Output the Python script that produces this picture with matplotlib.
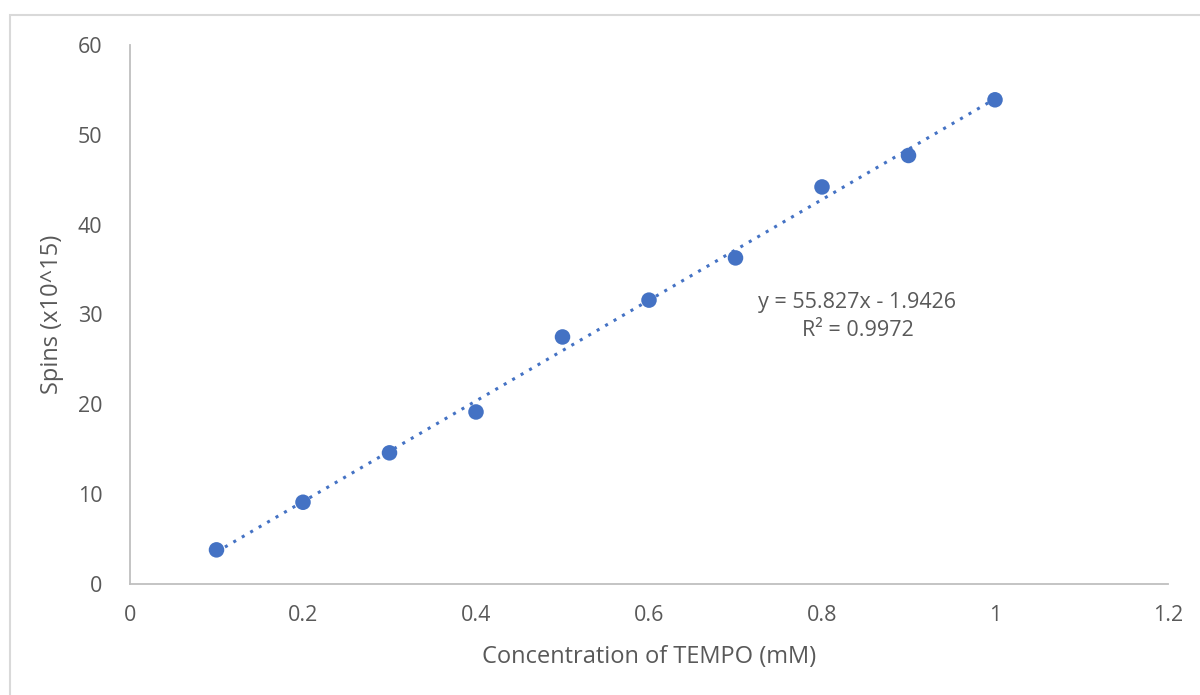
import matplotlib
matplotlib.use("Agg")
import matplotlib.pyplot as plt
import numpy as np
from matplotlib.patches import Rectangle

conc = [0.1, 0.2, 0.3, 0.4, 0.5, 0.6, 0.7, 0.8, 0.9, 1.0]
spins = [3.8, 9.1, 14.6, 19.15, 27.5, 31.6, 36.3, 44.2, 47.7, 53.9]
xticks = [0, 0.2, 0.4, 0.6, 0.8, 1, 1.2]
xtick_labels = ["0", "0.2", "0.4", "0.6", "0.8", "1", "1.2"]
yticks = [0, 10, 20, 30, 40, 50, 60]
eq_text = "y = 55.827x - 1.9426\nR² = 0.9972"

plt.rcParams['font.family'] = ['Open Sans', 'DejaVu Sans']
W, H = 1200, 695
fig = plt.figure(figsize=(W/100, H/100), dpi=100)
fig.patches.append(Rectangle((10/W, -0.1), 1.2, 1.1 - 15/H, transform=fig.transFigure,
                             fill=False, edgecolor='#d9d9d9', linewidth=1.5))
ax = fig.add_axes([130/W, 1-584/H, (1168-130)/W, (584-45)/H])
color = '#4472C4'
coef = np.polyfit(conc, spins, 1)
xl = np.array([conc[0], conc[-1]])
ax.plot(xl, np.polyval(coef, xl), linestyle=(0, (1, 2.2)), color=color, linewidth=2.2, zorder=2)
ax.scatter(conc, spins, s=125, color=color, zorder=3, edgecolors='none')

ax.set_xlim(0, 1.2)
ax.set_ylim(0, 60)
ax.set_xticks(xticks)
ax.set_xticklabels(xtick_labels)
ax.set_yticks(yticks)
for s in ['top', 'right']:
    ax.spines[s].set_visible(False)
for s in ['left', 'bottom']:
    ax.spines[s].set_color('#bfbfbf')
    ax.spines[s].set_linewidth(1.3)
ax.tick_params(length=0, labelsize=15.5, colors='#595959')
ax.tick_params(axis='x', pad=15)
ax.tick_params(axis='y', pad=20)
ax.set_xlabel("Concentration of TEMPO (mM)", fontsize=17, color='#595959', labelpad=14)
ax.set_ylabel("Spins (x10^15)", fontsize=17, color='#595959', labelpad=10)
ax.text(0.841, 29.8, eq_text, ha='center', va='center', fontsize=15.5, color='#595959', linespacing=1.45)

fig.savefig("out.png", dpi=100)
